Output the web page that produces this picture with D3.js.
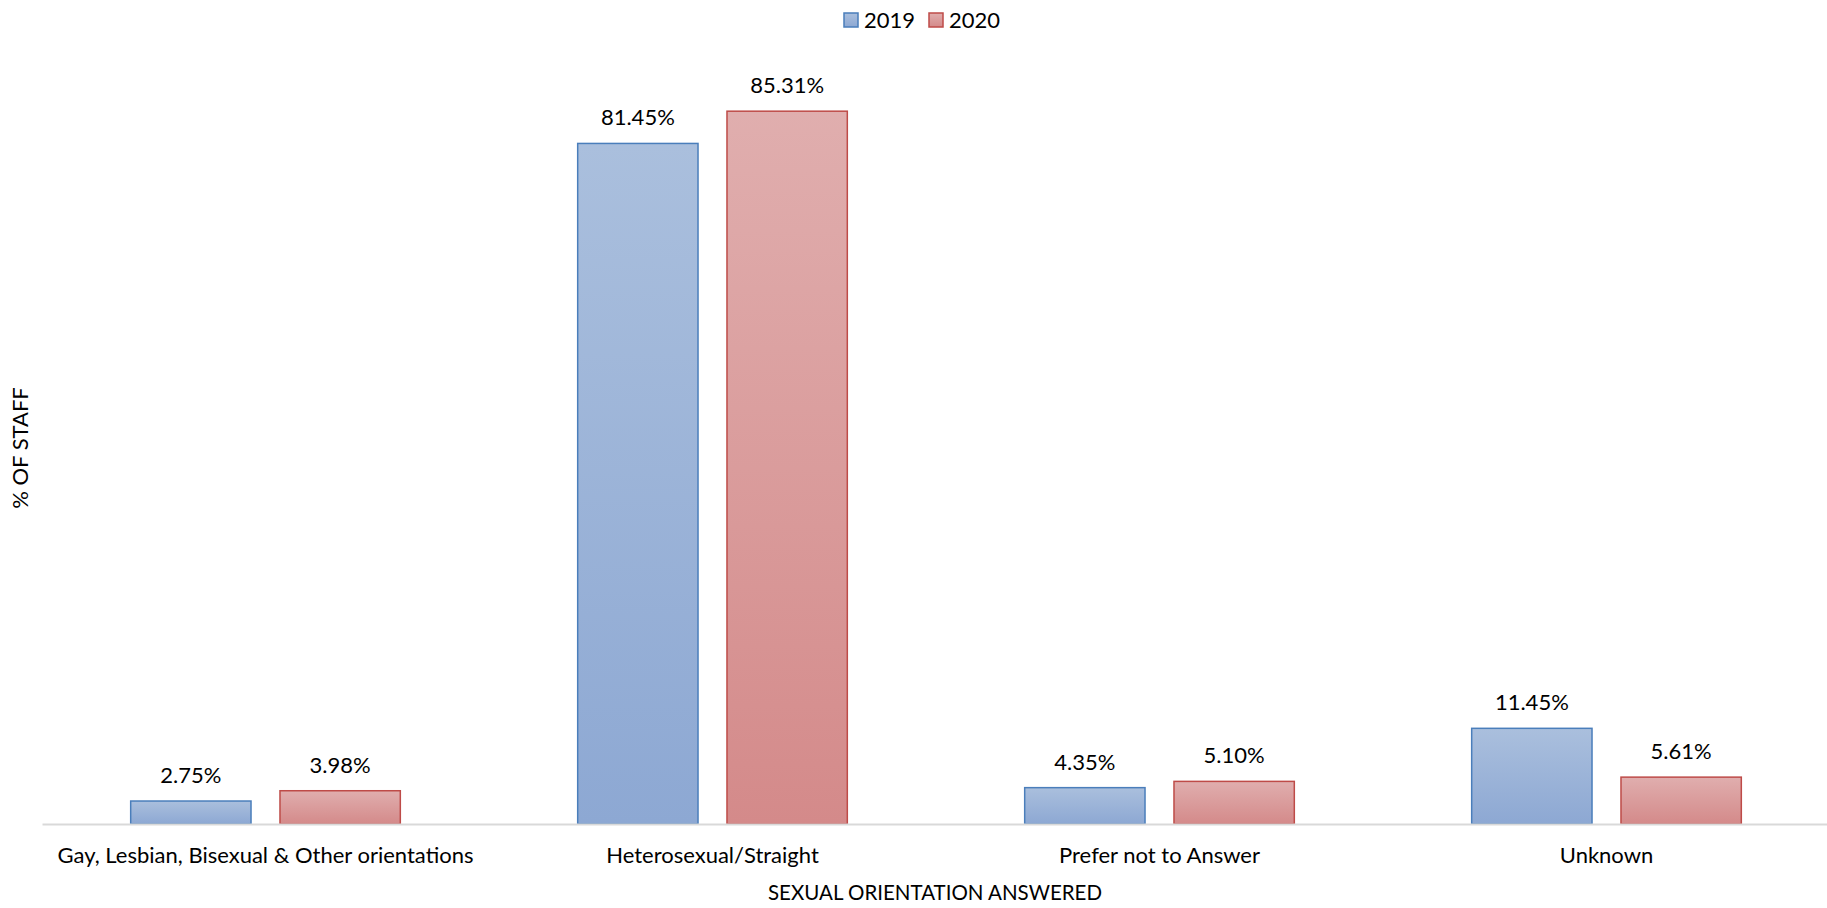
<!DOCTYPE html>
<html>
<head>
<meta charset="utf-8">
<script src="https://cdn.jsdelivr.net/npm/d3@7"></script>
<style>
  html, body { margin: 0; padding: 0; background: #fff; }
  svg { display: block; font-family: Lato, "Open Sans", sans-serif; }
</style>
</head>
<body>
<svg id="chart" width="1827" height="908"></svg>
<script>
const categories = ["Gay, Lesbian, Bisexual & Other orientations", "Heterosexual/Straight", "Prefer not to Answer", "Unknown"];
const seriesNames = ["2019", "2020"];
const values2019 = [2.75, 81.45, 4.35, 11.45];
const values2020 = [3.98, 85.31, 5.10, 5.61];
const labels2019 = ["2.75%", "81.45%", "4.35%", "11.45%"];
const labels2020 = ["3.98%", "85.31%", "5.10%", "5.61%"];
const yTitle = "% OF STAFF";
const xTitle = "SEXUAL ORIENTATION ANSWERED";

const W = 1827, H = 908;
const svg = d3.select("#chart");

const seriesData = [
  { name: seriesNames[0], values: values2019, labels: labels2019, top: "#AABFDD", bottom: "#8DA8D3", stroke: "#4A7EBB", id: "g2019" },
  { name: seriesNames[1], values: values2020, labels: labels2020, top: "#E0AEAE", bottom: "#D48A8A", stroke: "#BE4B48", id: "g2020" }
];

const defs = svg.append("defs");
seriesData.forEach(s => {
  const g = defs.append("linearGradient").attr("id", s.id)
    .attr("x1", 0).attr("y1", 0).attr("x2", 0).attr("y2", 1);
  g.append("stop").attr("offset", "0%").attr("stop-color", s.top);
  g.append("stop").attr("offset", "100%").attr("stop-color", s.bottom);
});

const baseY = 824;
const x0 = d3.scaleBand().domain(categories).range([42, 1830]).paddingInner(0).paddingOuter(0);
const bw = x0.bandwidth();
const x1 = d3.scaleBand().domain(seriesNames).range([bw * 0.1984, bw * 0.8016]).paddingInner(0.194).paddingOuter(0);
const y = d3.scaleLinear().domain([0, 90]).range([baseY, 72]);

// bars
const groups = svg.append("g").selectAll("g").data(categories).join("g")
  .attr("transform", d => `translate(${x0(d)},0)`);

seriesData.forEach(s => {
  groups.append("rect")
    .attr("x", x1(s.name))
    .attr("width", x1.bandwidth())
    .attr("y", (d, i) => y(s.values[i]))
    .attr("height", (d, i) => baseY - y(s.values[i]))
    .attr("fill", `url(#${s.id})`)
    .attr("stroke", s.stroke)
    .attr("stroke-width", 1.5);
  groups.append("text")
    .attr("x", x1(s.name) + x1.bandwidth() / 2)
    .attr("y", (d, i) => y(s.values[i]) - 18)
    .attr("text-anchor", "middle")
    .attr("font-size", 22)
    .attr("fill", "#000")
    .text((d, i) => s.labels[i]);
});

// x axis
const xAxis = svg.append("g").attr("transform", `translate(0,${baseY})`)
  .call(d3.axisBottom(x0).tickSize(0).tickPadding(0));
xAxis.select(".domain").attr("stroke", "#D9D9D9").attr("stroke-width", 2);
xAxis.selectAll(".tick text")
  .attr("y", 39).attr("dy", 0)
  .attr("font-size", 22)
  .attr("font-family", "Lato, 'Open Sans', sans-serif")
  .attr("fill", "#000");

// axis titles
svg.append("text")
  .attr("x", 935).attr("y", 900)
  .attr("text-anchor", "middle")
  .attr("font-size", 22)
  .attr("textLength", 334)
  .attr("lengthAdjust", "spacingAndGlyphs")
  .attr("fill", "#000")
  .text(xTitle);

svg.append("text")
  .attr("transform", "translate(28,448) rotate(-90)")
  .attr("text-anchor", "middle")
  .attr("font-size", 22)
  .attr("fill", "#000")
  .text(yTitle);

// legend
const legend = svg.append("g");
const legendItems = [{ s: seriesData[0], x: 844 }, { s: seriesData[1], x: 929 }];
legendItems.forEach(li => {
  legend.append("rect")
    .attr("x", li.x).attr("y", 13).attr("width", 14).attr("height", 14)
    .attr("fill", `url(#${li.s.id})`)
    .attr("stroke", li.s.stroke).attr("stroke-width", 1.5);
  legend.append("text")
    .attr("x", li.x + 20).attr("y", 27.5)
    .attr("font-size", 22)
    .attr("fill", "#000")
    .text(li.s.name);
});
</script>
</body>
</html>
